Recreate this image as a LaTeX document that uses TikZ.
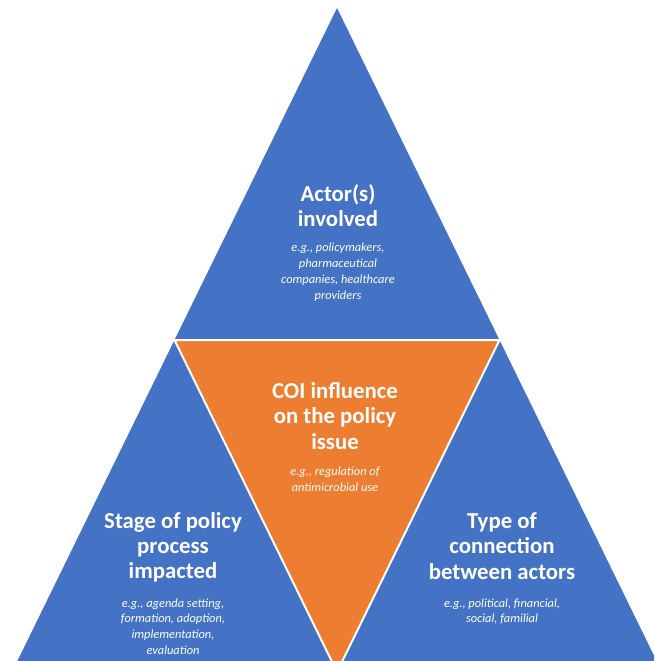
\documentclass[tikz,border=0pt]{standalone}
\usepackage{fontspec}
\setmainfont{Carlito}
\definecolor{tblue}{HTML}{4472C4}
\definecolor{torange}{HTML}{ED7D31}
\begin{document}
\begin{tikzpicture}[x=1pt,y=-1pt,
  titletext/.style={text=white,align=center,font=\fontsize{22.8}{25.2}\selectfont\bfseries,inner sep=0pt},
  exampletext/.style={text=white,align=center,font=\fontsize{12.4}{15.8}\selectfont\itshape,inner sep=0pt},
  bluetri/.style={fill=tblue,draw=none},
  orangetri/.style={fill=torange,draw=white,line width=2pt,line join=miter}]
\useasboundingbox (0,0) rectangle (654,661);
\clip (0,0) rectangle (654,661);
\coordinate (A) at (337,8);
\coordinate (L) at (174.5,340);
\coordinate (R) at (499.5,340);
\coordinate (BL) at (12,672);
\coordinate (BR) at (662,672);
\coordinate (B) at (337,672);
\fill[bluetri] (A) -- (BR) -- (BL) -- cycle;
\draw[orangetri] (L) -- (R) -- (B) -- cycle;
\node[titletext] (t1) at (338,205.5) {Actor(s)\\involved};
\node[exampletext] (e1) at (338,272) {e.g., policymakers,\\pharmaceutical\\companies, healthcare\\providers};
\node[titletext] (t2) at (335,416) {COI influence\\on the policy\\issue};
\node[exampletext] (e2) at (335,479.5) {e.g., regulation of\\antimicrobial use};
\node[titletext] (t3) at (173,547) {Stage of policy\\process\\impacted};
\node[exampletext] (e3) at (173,626.5) {e.g., agenda setting,\\formation, adoption,\\implementation,\\evaluation};
\node[titletext] (t4) at (502,546) {Type of\\connection\\between actors};
\node[exampletext] (e4) at (502,611.5) {e.g., political, financial,\\social, familial};
\end{tikzpicture}
\end{document}
